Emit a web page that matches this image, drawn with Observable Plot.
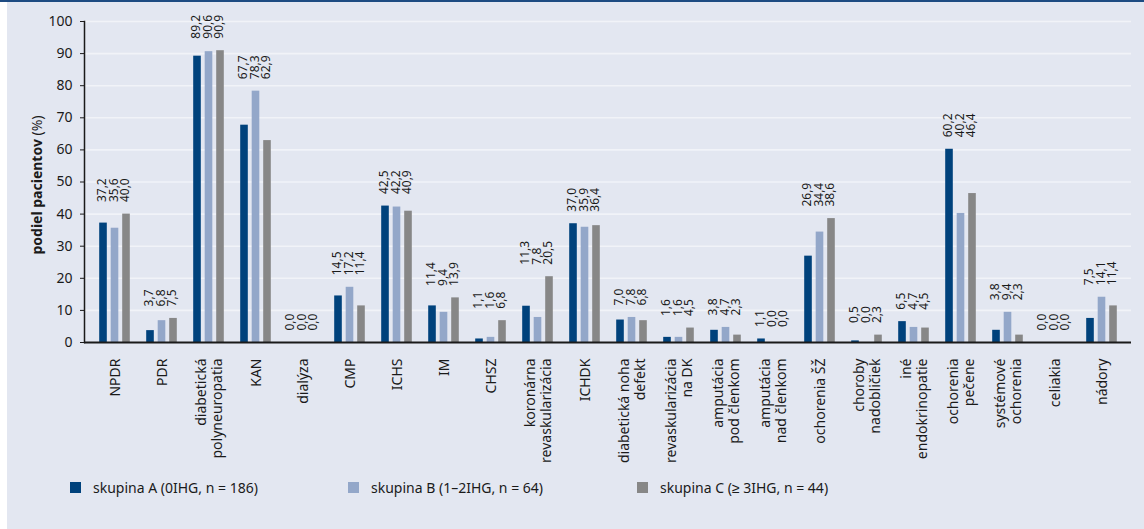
<!DOCTYPE html>
<html>
<head>
<meta charset="utf-8">
<script src="https://cdn.jsdelivr.net/npm/d3@7"></script>
<script src="https://cdn.jsdelivr.net/npm/@observablehq/plot@0.6"></script>
<style>
  html, body { margin: 0; padding: 0; background: #ffffff; }
  #wrap { position: relative; width: 1144px; height: 529px; overflow: hidden; font-family: "Noto Sans", sans-serif; }
  #topline { position: absolute; left: 0; top: 0; width: 1144px; height: 2px; background: #1d4b82; }
  #bg { position: absolute; left: 7px; top: 2px; right: 0; bottom: 0; background: #e3e7f1; }
  #chart { position: absolute; left: 0; top: 0; }
  #legend { position: absolute; left: 70px; top: 478px; display: flex; font-size: 14px; color: #1a1a1a; }
  .item { display: flex; align-items: center; }
  .sw { width: 11px; height: 11px; margin-right: 12px; }
</style>
</head>
<body>
<div id="wrap">
  <div id="topline"></div>
  <div id="bg"></div>
  <div id="chart"></div>
  <div id="legend"></div>
</div>
<script>
const categories = ["NPDR","PDR","diabetická\npolyneuropatia","KAN","dialýza","CMP","ICHS","IM","CHSZ","koronárna\nrevaskularizácia","ICHDK","diabetická noha\ndefekt","revaskularizácia\nna DK","amputácia\npod členkom","amputácia\nnad členkom","ochorenia ŠŽ","choroby\nnadobličiek","iné\nendokrinopatie","ochorenia\npečene","systémové\nochorenia","celiakia","nádory"];
const groupA = [37.2,3.7,89.2,67.7,0.0,14.5,42.5,11.4,1.1,11.3,37.0,7.0,1.6,3.8,1.1,26.9,0.5,6.5,60.2,3.8,0.0,7.5];
const groupB = [35.6,6.8,90.6,78.3,0.0,17.2,42.2,9.4,1.6,7.8,35.9,7.8,1.6,4.7,0.0,34.4,0.0,4.7,40.2,9.4,0.0,14.1];
const groupC = [40.0,7.5,90.9,62.9,0.0,11.4,40.9,13.9,6.8,20.5,36.4,6.8,4.5,2.3,0.0,38.6,2.3,4.5,46.4,2.3,0.0,11.4];
const seriesNames = ["skupina A (0IHG, n = 186)","skupina B (1–2IHG, n = 64)","skupina C (≥ 3IHG, n = 44)"];
const seriesColors = ["#00427c","#93a7c9","#878787"];
const yTicks = [0,10,20,30,40,50,60,70,80,90,100];

const seriesValues = [groupA, groupB, groupC];
const rows = [];
seriesValues.forEach((vals, s) => vals.forEach((v, i) => rows.push({
  cat: categories[i], s, v,
  top: Math.max(groupA[i], groupB[i], groupC[i])
})));
const fmt = v => v.toFixed(1).replace(".", ",");

const W = 1144, H = 470, mL = 84, mR = 13;
const step = (W - mL - mR) / categories.length;
const barW = 8.2, barStep = 11.5;
const inset = (step - barW) / 2;
const font = "Noto Sans, sans-serif";

const marks = [
  Plot.ruleY(yTicks.filter(d => d > 0), {stroke: "#f1f3f8", strokeWidth: 1.6}),
];
[0,1,2].forEach(s => {
  const data = rows.filter(r => r.s === s);
  marks.push(Plot.barY(data, {x: "cat", y: "v", fill: seriesColors[s], dx: (s - 1) * barStep, insetLeft: inset, insetRight: inset}));
  marks.push(Plot.text(data, {x: "cat", y: "top", text: d => fmt(d.v), rotate: -90, textAnchor: "start", dx: (s - 1) * barStep - 1, dy: -12, fontSize: 12, fill: "#1a1a1a"}));
});
marks.push(
  Plot.axisY({ticks: yTicks, tickSize: 4, tickPadding: 8, fontSize: 14, label: null, stroke: "#1a1a1a", fill: "#1a1a1a"}),
  Plot.axisX({tickSize: 0, tickPadding: 16, tickRotate: -90, fontSize: 14, lineHeight: 1.1, label: null, fill: "#1a1a1a"}),
  Plot.ruleY([0], {stroke: "#1a1a1a", strokeWidth: 2}),
  Plot.frame({anchor: "left", stroke: "#1a1a1a", strokeWidth: 1.5})
);

const plot = Plot.plot({
  width: W, height: H,
  marginLeft: mL, marginRight: mR, marginTop: 21, marginBottom: H - 342,
  style: {background: "transparent", fontFamily: font, color: "#1a1a1a"},
  x: {type: "band", domain: categories, padding: 0, label: null},
  y: {domain: [0, 100], label: null},
  marks
});
document.getElementById("chart").appendChild(plot);

const svg = d3.select(plot);
const t = svg.append("text")
  .attr("transform", "translate(42,185) rotate(-90)")
  .attr("text-anchor", "middle")
  .attr("font-family", font)
  .attr("font-size", 14)
  .attr("fill", "#1a1a1a");
t.append("tspan").attr("font-weight", "bold").text("podiel pacientov");
t.append("tspan").text(" (%)");

const legend = d3.select("#legend");
const gaps = [0, 278, 289];
seriesNames.forEach((name, s) => {
  const it = legend.append("div").attr("class", "item").style("position", "absolute")
    .style("left", [0, 278, 567][s] + "px").style("white-space", "nowrap");
  it.append("div").attr("class", "sw").style("background", seriesColors[s]);
  it.append("span").text(name);
});
</script>
</body>
</html>
